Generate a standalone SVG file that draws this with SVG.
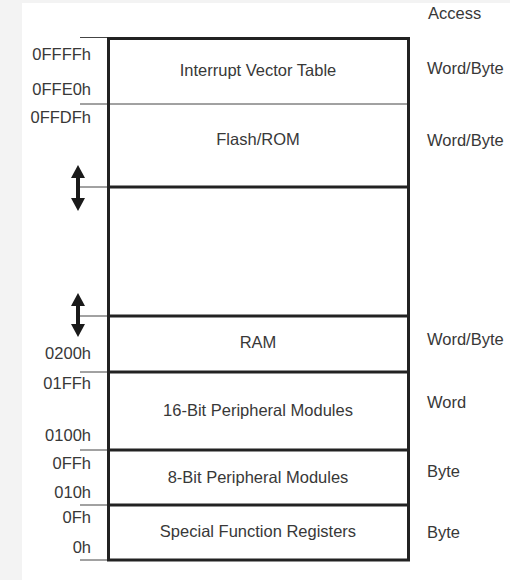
<svg xmlns="http://www.w3.org/2000/svg" width="510" height="580" viewBox="0 0 510 580">
<style>
text{font-family:"Liberation Sans",Arial,sans-serif;font-size:16.5px;fill:#383838}
.addr{text-anchor:end}
.mid{text-anchor:middle}
.tick{stroke:#444;stroke-width:1}
.thick{stroke:#222;stroke-width:3;fill:none}
.thin{stroke:#444;stroke-width:1}
.arrow{stroke:#1a1a1a;stroke-width:4;marker-start:url(#ah);marker-end:url(#ah)}
</style>
<defs>
<marker id="ah" viewBox="0 0 13 14" refX="3" refY="7" markerWidth="13" markerHeight="14" markerUnits="userSpaceOnUse" orient="auto-start-reverse">
<path d="M0,0 L13,7 L0,14 z" fill="#1a1a1a"/>
</marker>
</defs>
<rect x="0" y="0" width="510" height="580" fill="#f3f3f3"/>
<rect x="22" y="3" width="488" height="577" fill="#ffffff"/>
<text x="428" y="19">Access</text>
<g id="ticks">
<line class="tick" x1="80" y1="37.5" x2="108" y2="37.5"/>
<line class="tick" x1="80" y1="104" x2="108" y2="104"/>
<line class="tick" x1="80" y1="187" x2="108" y2="187"/>
<line class="tick" x1="80" y1="316" x2="108" y2="316"/>
<line class="tick" x1="80" y1="372" x2="108" y2="372"/>
<line class="tick" x1="80" y1="450" x2="108" y2="450"/>
<line class="tick" x1="80" y1="505" x2="108" y2="505"/>
<line class="tick" x1="80" y1="560" x2="108" y2="560"/>
</g>
<g id="ivt">
<text x="258" y="75.5" class="mid">Interrupt Vector Table</text>
<text x="91" y="60" class="addr">0FFFFh</text>
<text x="91" y="95" class="addr">0FFE0h</text>
<text x="427" y="74">Word/Byte</text>
</g>
<line class="thin" x1="108" y1="104" x2="408" y2="104"/>
<g id="flash">
<text x="258" y="145" class="mid">Flash/ROM</text>
<text x="91" y="123" class="addr">0FFDFh</text>
<text x="427" y="146">Word/Byte</text>
</g>
<g id="gap"></g>
<g id="ram">
<text x="258" y="348" class="mid">RAM</text>
<text x="91" y="359" class="addr">0200h</text>
<text x="427" y="345">Word/Byte</text>
</g>
<g id="p16">
<text x="258" y="416" class="mid">16-Bit Peripheral Modules</text>
<text x="91" y="389" class="addr">01FFh</text>
<text x="91" y="441" class="addr">0100h</text>
<text x="427" y="408">Word</text>
</g>
<g id="p8">
<text x="258" y="483" class="mid">8-Bit Peripheral Modules</text>
<text x="91" y="469" class="addr">0FFh</text>
<text x="91" y="498" class="addr">010h</text>
<text x="427" y="477">Byte</text>
</g>
<g id="sfr">
<text x="258" y="537" class="mid">Special Function Registers</text>
<text x="91" y="523" class="addr">0Fh</text>
<text x="91" y="553" class="addr">0h</text>
<text x="427" y="538">Byte</text>
</g>
<g id="box">
<rect class="thick" x="108.5" y="38.5" width="300" height="521.5"/>
<line class="thick" x1="108.5" y1="187" x2="408.5" y2="187"/>
<line class="thick" x1="108.5" y1="316" x2="408.5" y2="316"/>
<line class="thick" x1="108.5" y1="372" x2="408.5" y2="372"/>
<line class="thick" x1="108.5" y1="450" x2="408.5" y2="450"/>
<line class="thick" x1="108.5" y1="505" x2="408.5" y2="505"/>
</g>
<g id="connectors">
<line class="arrow" x1="78" y1="175" x2="78" y2="201"/>
<line class="arrow" x1="78" y1="303" x2="78" y2="327"/>
</g>
</svg>
